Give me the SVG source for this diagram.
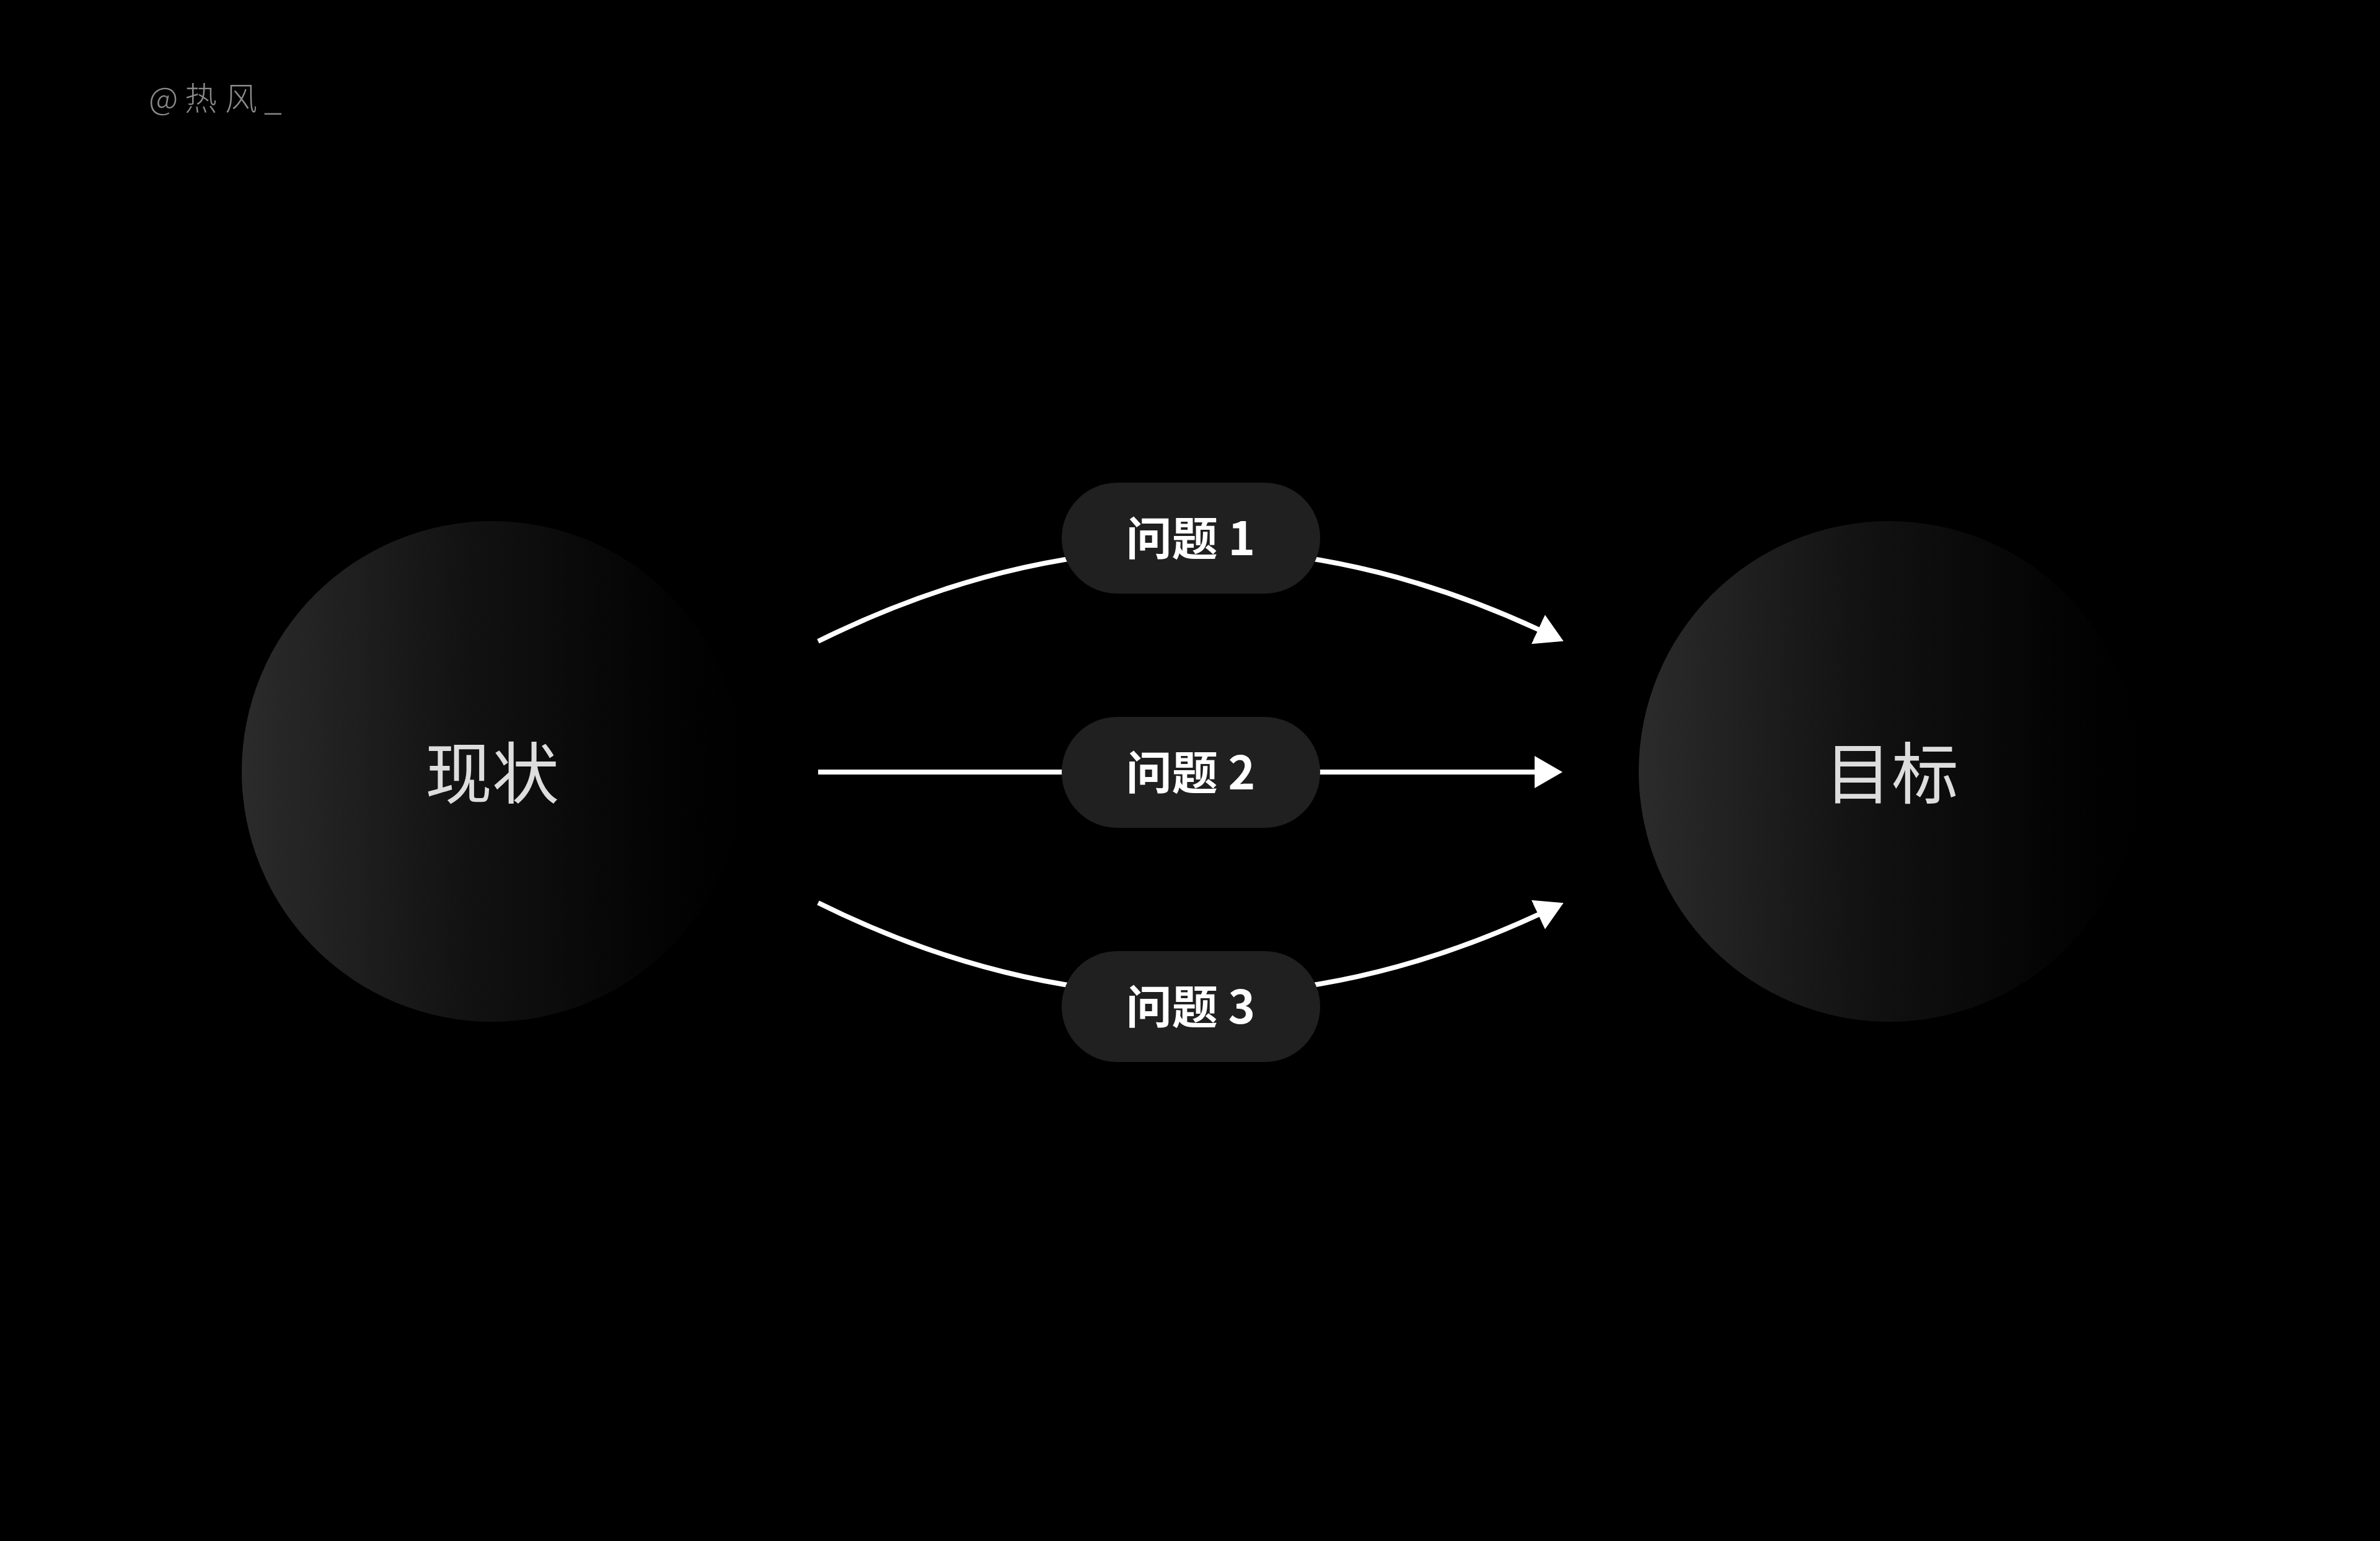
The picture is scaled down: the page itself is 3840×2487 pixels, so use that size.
<svg xmlns="http://www.w3.org/2000/svg" width="3840" height="2487" viewBox="0 0 3840 2487">
  <style>
    .bg { fill: #000000; }
    .ball { fill: url(#ballGrad); }
    .ball-label { font-family: "Noto Sans CJK SC", "Noto Sans", sans-serif; font-size: 108px; fill: #dddddd; text-anchor: middle; }
    .pill { fill: #202020; }
    .pill-label { font-family: "Noto Sans CJK SC", "Noto Sans", sans-serif; font-size: 74px; font-weight: 700; fill: #ffffff; text-anchor: middle; }
    .wire { fill: none; stroke: #ffffff; stroke-width: 8; marker-end: url(#arrow); }
    .mark { font-family: "Noto Sans CJK SC", "Noto Sans", sans-serif; font-size: 52px; font-weight: 300; fill: #8a8a8a; }
  </style>
  <defs>
    <linearGradient id="ballGrad" x1="0" y1="0" x2="1" y2="0">
      <stop offset="0" stop-color="#2b2b2b"/>
      <stop offset="0.45" stop-color="#121212"/>
      <stop offset="0.85" stop-color="#030303"/>
      <stop offset="1" stop-color="#000000"/>
    </linearGradient>
    <marker id="arrow" markerUnits="userSpaceOnUse" markerWidth="50" markerHeight="60" viewBox="-2 -30 50 60" refX="0" refY="0" orient="auto">
      <path d="M-2,-26 L43,0 L-2,26 Z" fill="#ffffff"/>
    </marker>
  </defs>
  <rect class="bg" x="0" y="0" width="3840" height="2487"/>

  <g id="watermark">
    <text class="mark" x="240 298 363 426" y="178">@热风_</text>
  </g>

  <g id="connectors">
    <path class="wire" d="M1320,1035 Q1901.8,746.5 2483.6,1016.6"/>
    <path class="wire" d="M1320,1246 L2478,1246"/>
    <path class="wire" d="M1320,1457 Q1901.8,1745.5 2483.6,1475.4"/>
  </g>

  <g id="node-current">
    <circle class="ball" cx="794" cy="1245" r="404"/>
    <text class="ball-label" x="794" y="1288">现状</text>
  </g>

  <g id="node-goal">
    <circle class="ball" cx="3048" cy="1245" r="404"/>
    <text class="ball-label" x="3052" y="1288">目标</text>
  </g>

  <g id="node-q1">
    <rect class="pill" x="1713" y="779" width="417" height="179" rx="89.5"/>
    <text class="pill-label" x="1921" y="896">问题 1</text>
  </g>

  <g id="node-q2">
    <rect class="pill" x="1713" y="1157" width="417" height="179" rx="89.5"/>
    <text class="pill-label" x="1921" y="1274">问题 2</text>
  </g>

  <g id="node-q3">
    <rect class="pill" x="1713" y="1535" width="417" height="179" rx="89.5"/>
    <text class="pill-label" x="1921" y="1652">问题 3</text>
  </g>
</svg>
